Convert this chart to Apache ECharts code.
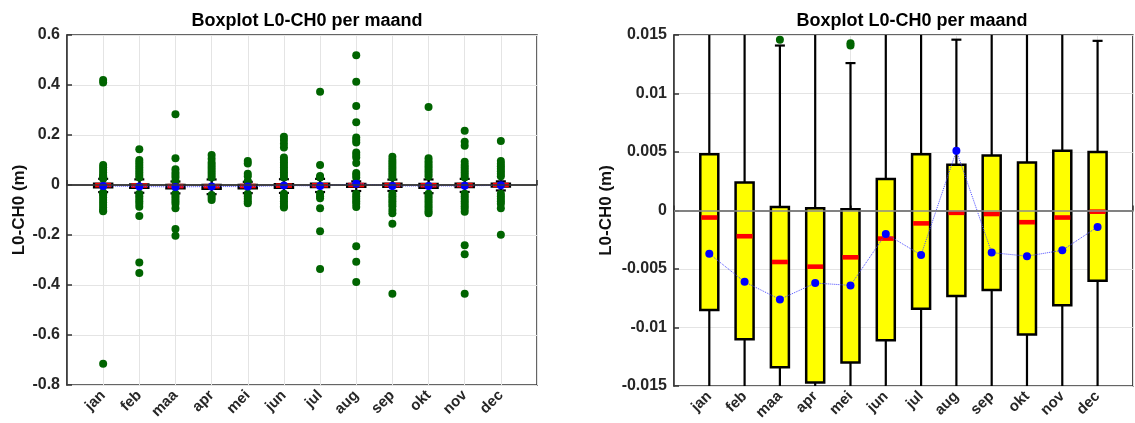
<!DOCTYPE html>
<html>
<head>
<meta charset="utf-8">
<script src="https://cdn.jsdelivr.net/npm/echarts@6/dist/echarts.min.js"></script>
<style>
html,body{margin:0;padding:0;background:#fff;}
#main{width:1135px;height:423px;}
</style>
</head>
<body>
<div id="main"></div>
<script>
var months = ['jan','feb','maa','apr','mei','jun','jul','aug','sep','okt','nov','dec'];
// boxplot statistieken per maand
var q1 = [-0.0085,-0.0110,-0.0134,-0.0147,-0.0130,-0.0111,-0.0084,-0.0073,-0.0068,-0.0106,-0.0081,-0.0060];
var median = [-0.0006,-0.0022,-0.0044,-0.0048,-0.0040,-0.0024,-0.0011,-0.0002,-0.0003,-0.0010,-0.0006,-0.0001];
var q3 = [0.0048,0.0024,0.0003,0.0002,0.0001,0.0027,0.0048,0.0039,0.0047,0.0041,0.0051,0.0050];
var whiskerLow = [-0.0284,-0.0311,-0.0335,-0.0365,-0.0325,-0.0318,-0.0281,-0.0241,-0.0237,-0.0326,-0.0276,-0.0218];
var whiskerHigh = [0.0247,0.0225,0.0141,0.0222,0.0126,0.0232,0.0245,0.0146,0.0217,0.0222,0.0244,0.0145];
var mean = [-0.0037,-0.0061,-0.0076,-0.0062,-0.0064,-0.0020,-0.0038,0.0051,-0.0036,-0.0039,-0.0034,-0.0014];
// uitschieters per maand
var outJan = [0.42,0.41,0.08,0.07,0.06,0.05,0.04,0.035,0.03,0.025,-0.03,-0.035,-0.04,-0.05,-0.06,-0.07,-0.08,-0.09,-0.1,-0.105,-0.715];
var outFeb = [0.143,0.1,0.09,0.08,0.07,0.06,0.05,0.04,0.03,-0.035,-0.045,-0.055,-0.065,-0.075,-0.087,-0.124,-0.31,-0.352];
var outMaa = [0.283,0.107,0.063,0.05,0.04,0.03,0.0146,-0.035,-0.045,-0.055,-0.065,-0.075,-0.093,-0.176,-0.203];
var outApr = [0.12,0.105,0.09,0.08,0.07,0.06,0.05,0.04,0.03,-0.04,-0.05,-0.06];
var outMei = [0.096,0.086,0.045,0.035,0.0143,0.0141,-0.035,-0.045,-0.055,-0.065,-0.073];
var outJun = [0.193,0.18,0.165,0.15,0.11,0.1,0.09,0.08,0.07,0.06,0.05,0.04,0.03,-0.035,-0.045,-0.055,-0.065,-0.075,-0.085,-0.09];
var outJul = [0.373,0.08,0.036,0.03,-0.035,-0.045,-0.053,-0.093,-0.185,-0.336];
var outAug = [0.519,0.413,0.316,0.251,0.19,0.18,0.17,0.13,0.12,0.11,0.088,0.048,0.04,0.03,-0.035,-0.045,-0.055,-0.065,-0.075,-0.088,-0.245,-0.307,-0.388];
var outSep = [0.113,0.1,0.09,0.08,0.07,0.06,0.05,0.04,0.03,-0.035,-0.045,-0.055,-0.065,-0.075,-0.085,-0.1,-0.113,-0.155,-0.435];
var outOkt = [0.312,0.107,0.095,0.085,0.075,0.065,0.055,0.045,0.035,-0.035,-0.045,-0.055,-0.065,-0.075,-0.085,-0.095,-0.105,-0.113];
var outNov = [0.217,0.173,0.157,0.093,0.08,0.07,0.06,0.05,0.04,0.03,-0.035,-0.045,-0.055,-0.065,-0.075,-0.085,-0.095,-0.107,-0.241,-0.277,-0.435];
var outDec = [0.176,0.096,0.085,0.075,0.065,0.055,0.045,0.035,-0.035,-0.045,-0.055,-0.065,-0.075,-0.093,-0.199];
var outliers = [outJan,outFeb,outMaa,outApr,outMei,outJun,outJul,outAug,outSep,outOkt,outNov,outDec];

var boxData = [], meanData = [], outData = [];
for (var i = 0; i < months.length; i++)
{
	boxData.push([i+1, whiskerLow[i], q1[i], median[i], q3[i], whiskerHigh[i]]);
	meanData.push([i+1, mean[i]]);
	for (var j = 0; j < outliers[i].length; j++)
	{
		outData.push([i+1, outliers[i][j]]);
	}
}

var FONT = 'Liberation Sans, Arial, sans-serif';

//snorren (whiskers) met dopjes
function renderWhisker(params, api)
{
	var x = api.value(0);
	var low = api.coord([x, api.value(1)]);
	var p1 = api.coord([x, api.value(2)]);
	var p3 = api.coord([x, api.value(4)]);
	var high = api.coord([x, api.value(5)]);
	var cap = 5;
	var black = {stroke:'#000', lineWidth:2.2};
	return {
		type:'group',
		children:[
			{type:'line', shape:{x1:high[0],y1:high[1],x2:p3[0],y2:p3[1]}, style:black},
			{type:'line', shape:{x1:p1[0],y1:p1[1],x2:low[0],y2:low[1]}, style:black},
			{type:'line', shape:{x1:high[0]-cap,y1:high[1],x2:high[0]+cap,y2:high[1]}, style:black},
			{type:'line', shape:{x1:low[0]-cap,y1:low[1],x2:low[0]+cap,y2:low[1]}, style:black}
		]
	};
}
//doos met mediaan
function renderBox(params, api)
{
	var x = api.value(0);
	var p1 = api.coord([x, api.value(2)]);
	var med = api.coord([x, api.value(3)]);
	var p3 = api.coord([x, api.value(4)]);
	var half = 9;
	return {
		type:'group',
		children:[
			{type:'rect', shape:{x:p3[0]-half,y:p3[1],width:half*2,height:p1[1]-p3[1]}, style:{fill:'#ffff00',stroke:'#000',lineWidth:2.5}},
			{type:'rect', shape:{x:med[0]-half+1,y:med[1]-2.3,width:half*2-2,height:4.6}, style:{fill:'#ff0000'}}
		]
	};
}

function xAxisFor(gi)
{
	return {
		type:'value', gridIndex:gi, min:0, max:13, interval:1,
		axisLine:{show:true, lineStyle:{color:'#333', width:1.5}},
		axisTick:{show:true, inside:true, length:5, lineStyle:{color:'#333', width:1.5}},
		axisLabel:{
			rotate:45, margin:8, color:'#262626', fontSize:15, fontWeight:'bold', fontFamily:FONT,
			formatter:function(v){ return (v >= 1 && v <= 12) ? months[v-1] : ''; }
		},
		splitLine:{show:true, lineStyle:{color:'#e4e4e4', width:1}}
	};
}

function yAxisFor(gi, mn, mx, step, gap)
{
	return {
		type:'value', gridIndex:gi, min:mn, max:mx, interval:step,
		name:'L0-CH0 (m)', nameLocation:'middle', nameGap:gap,
		nameTextStyle:{color:'#111', fontSize:17, fontWeight:'bold', fontFamily:FONT},
		axisLine:{show:true, lineStyle:{color:'#333', width:1.5}},
		axisTick:{show:true, inside:true, length:5, lineStyle:{color:'#333', width:1.5}},
		axisLabel:{margin:7, color:'#262626', fontSize:16, fontWeight:'bold', fontFamily:FONT},
		splitLine:{show:true, lineStyle:{color:'#e4e4e4', width:1}}
	};
}

//nullijn
function zeroLine(color)
{
	return {silent:true, symbol:['none','none'], label:{show:false},
		lineStyle:{color:color, type:'solid', width:1.5},
		data:[[{coord:[0,0]},{coord:[13,0]}]]};
}

var myChart = echarts.init(document.getElementById('main'), null, {renderer:'canvas'});
myChart.setOption({
	backgroundColor:'#fff',
	animation:false,
	title:[
		{text:'Boxplot L0-CH0 per maand', left:302, top:7, textAlign:'center',
			textStyle:{color:'#000', fontSize:18, fontWeight:'bold', fontFamily:FONT}},
		{text:'Boxplot L0-CH0 per maand', left:907, top:7, textAlign:'center',
			textStyle:{color:'#000', fontSize:18, fontWeight:'bold', fontFamily:FONT}}
	],
	grid:[
		{left:67, top:35, width:470, height:350, show:true, borderColor:'#333', borderWidth:1.5, backgroundColor:'#fff'},
		{left:674, top:35, width:467, height:351, show:true, borderColor:'#333', borderWidth:1.5, backgroundColor:'#fff'}
	],
	xAxis:[xAxisFor(0), xAxisFor(1)],
	yAxis:[yAxisFor(0, -0.8, 0.6, 0.2, 39), yAxisFor(1, -0.015, 0.015, 0.005, 59)],
	series:[
		{type:'custom', xAxisIndex:0, yAxisIndex:0, data:boxData, renderItem:renderWhisker, clip:true, z:1},
		{type:'scatter', xAxisIndex:0, yAxisIndex:0, data:outData, symbolSize:8,
			itemStyle:{color:'#006400', opacity:1}, z:2, markLine:zeroLine('#3a3a3a')},
		{type:'custom', xAxisIndex:0, yAxisIndex:0, data:boxData, renderItem:renderBox, clip:true, z:3},
		{type:'line', xAxisIndex:0, yAxisIndex:0, data:meanData, symbol:'circle', symbolSize:8,
			itemStyle:{color:'#0000ff'}, lineStyle:{color:'#4a4aff', width:1, type:'dotted'}, z:4},
		{type:'custom', xAxisIndex:1, yAxisIndex:1, data:boxData, renderItem:renderWhisker, clip:true, z:1},
		{type:'scatter', xAxisIndex:1, yAxisIndex:1, data:outData, symbolSize:8, clip:true,
			itemStyle:{color:'#006400', opacity:1}, z:2, markLine:zeroLine('#8c8c8c')},
		{type:'custom', xAxisIndex:1, yAxisIndex:1, data:boxData, renderItem:renderBox, clip:true, z:3},
		{type:'line', xAxisIndex:1, yAxisIndex:1, data:meanData, symbol:'circle', symbolSize:8,
			itemStyle:{color:'#0000ff'}, lineStyle:{color:'#4a4aff', width:1, type:'dotted'}, z:4}
	]
});
</script>
</body>
</html>
